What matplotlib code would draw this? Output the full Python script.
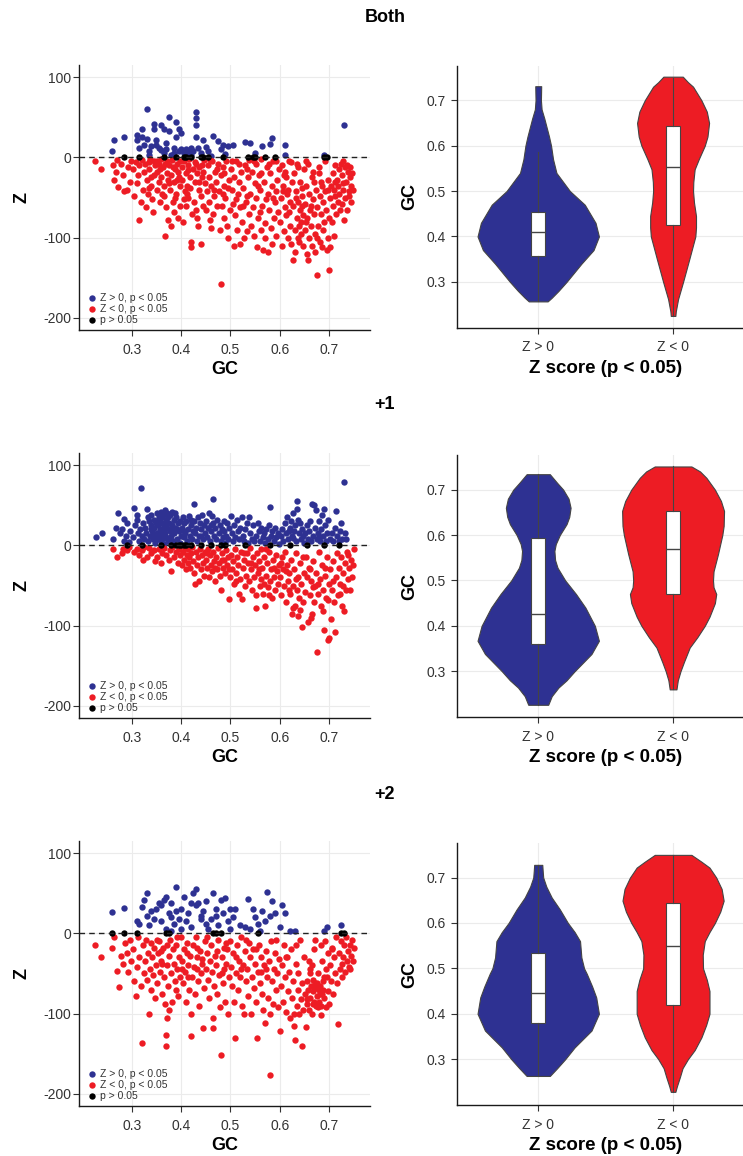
import numpy as np
import matplotlib.pyplot as plt
import pandas as pd

plt.rcParams['font.family'] = ['Liberation Sans', 'DejaVu Sans']
plt.rcParams['axes.unicode_minus'] = False

BLUE = '#2E3192'
RED = '#ED1C24'

titles = ['Both', '+1', '+2']
groups = ['Z > 0', 'Z < 0']
legend_labels = ['Z > 0, p < 0.05', 'Z < 0, p < 0.05', 'p > 0.05']

# ---- scatter data (GC, Z) ----
both_pos = [(0.26,8),(0.265,22),(0.285,26),(0.31,22),(0.31,28),(0.315,12),(0.32,36),(0.32,25),(0.325,15),(0.33,60),
            (0.33,23),(0.335,3),(0.335,8),(0.345,42),(0.345,35),(0.35,22),(0.35,15),(0.355,12),(0.36,40),(0.365,36),
            (0.365,5),(0.37,10),(0.375,50),(0.375,33),(0.38,3),(0.385,12),(0.39,44),(0.39,26),(0.395,35),(0.395,8),
            (0.4,30),(0.4,10),(0.405,5),(0.41,10),(0.415,7),(0.42,3),(0.425,8),(0.43,57),(0.43,49),(0.43,40),
            (0.43,25),(0.435,12),(0.44,5),(0.445,22),(0.45,13),(0.455,8),(0.46,2),(0.465,27),(0.475,20),(0.48,10),
            (0.485,15),(0.49,4),(0.495,14),(0.505,16),(0.53,19),(0.54,18),(0.55,5),(0.565,14),(0.58,17),(0.585,24),
            (0.61,16),(0.61,3),(0.69,3),(0.73,40),(0.37,18),(0.385,6),(0.42,12),(0.41,2),(0.36,9),(0.34,14)]
both_ns = [0.285,0.315,0.365,0.39,0.405,0.41,0.42,0.44,0.445,0.455,0.485,0.535,0.545,0.55,0.57,0.59,0.69,0.695]
both_neg = [(0.226,-5),(0.238,-14),(0.262,-10),(0.265,-28),(0.27,-3),(0.272,-37),(0.268,-18),
            (0.278,-8),(0.282,-22),(0.285,-42),(0.29,-40),(0.292,-12),(0.296,-30),(0.298,-4),
            (0.302,-14),(0.305,-48),(0.308,-6),(0.31,-32),(0.312,-22),(0.315,-78),(0.318,-55),(0.32,-3),(0.322,-40),(0.324,-18),(0.314,-10),
            (0.326,-8),(0.328,-62),(0.33,-28),(0.332,-45),(0.335,-15),(0.337,-2),(0.34,-35),(0.342,-52),(0.344,-68),(0.346,-22),(0.348,-10),(0.335,-38),(0.345,-5),(0.338,-25),
            (0.351,-40),(0.352,-18),(0.355,-8),(0.356,-30),(0.358,-55),(0.36,-2),(0.36,-25),(0.362,-45),(0.364,-12),(0.366,-35),(0.368,-98),(0.37,-62),(0.371,-5),(0.372,-20),(0.374,-78),(0.357,-15),(0.365,-48),(0.373,-28),
            (0.376,-10),(0.378,-40),(0.38,-22),(0.382,-3),(0.383,-55),(0.385,-30),(0.386,-68),(0.388,-15),(0.39,-45),(0.392,-8),(0.394,-75),(0.395,-25),(0.397,-35),(0.398,-60),(0.379,-85),(0.387,-50),(0.393,-18),
            (0.401,-12),(0.402,-28),(0.404,-80),(0.405,-5),(0.407,-42),(0.409,-20),(0.41,-60),(0.412,-35),(0.414,-10),(0.415,-50),(0.417,-2),(0.418,-25),(0.42,-112),(0.421,-105),(0.422,-70),(0.424,-15),(0.411,-45),(0.419,-38),
            (0.426,-55),(0.428,-30),(0.43,-8),(0.431,-65),(0.432,-20),(0.434,-85),(0.436,-40),(0.437,-12),(0.44,-108),(0.441,-48),(0.442,-25),(0.444,-60),(0.446,-3),(0.448,-32),(0.433,-75),(0.445,-18),
            (0.451,-65),(0.452,-42),(0.454,-10),(0.456,-55),(0.457,-25),(0.46,-88),(0.461,-35),(0.463,-5),(0.465,-70),(0.466,-48),(0.468,-18),(0.47,-30),(0.472,-60),(0.474,-8),(0.458,-78),
            (0.476,-42),(0.478,-90),(0.48,-158),(0.481,-22),(0.483,-60),(0.485,-12),(0.486,-75),(0.488,-35),(0.49,-50),(0.492,-5),(0.494,-85),(0.495,-100),(0.497,-28),(0.499,-65),(0.484,-45),
            (0.501,-15),(0.503,-40),(0.505,-58),(0.507,-110),(0.508,-25),(0.51,-72),(0.512,-5),(0.514,-90),(0.515,-45),(0.517,-30),(0.519,-62),(0.52,-108),(0.522,-18),(0.524,-80),(0.511,-52),
            (0.526,-38),(0.528,-100),(0.53,-10),(0.531,-55),(0.533,-92),(0.535,-25),(0.537,-70),(0.538,-3),(0.54,-45),(0.542,-85),(0.544,-18),(0.546,-62),(0.548,-98),(0.549,-32),(0.534,-48),
            (0.551,-8),(0.552,-50),(0.554,-112),(0.556,-75),(0.558,-22),(0.56,-40),(0.562,-90),(0.563,-2),(0.565,-60),(0.567,-115),(0.568,-30),(0.57,-82),(0.572,-52),(0.574,-12),(0.559,-68),(0.571,-100),
            (0.576,-118),(0.577,-45),(0.579,-65),(0.58,-20),(0.582,-88),(0.584,-35),(0.586,-5),(0.588,-75),(0.59,-55),(0.592,-98),(0.594,-28),(0.596,-68),(0.598,-15),(0.585,-108),(0.593,-42),
            (0.601,-80),(0.602,-50),(0.604,-110),(0.605,-10),(0.607,-35),(0.608,-92),(0.61,-62),(0.612,-25),(0.613,-72),(0.615,-45),(0.617,-100),(0.618,-5),(0.62,-55),(0.621,-85),(0.623,-108),(0.624,-30),(0.611,-18),(0.619,-68),(0.606,-42),
            (0.626,-128),(0.627,-60),(0.628,-20),(0.63,-118),(0.631,-90),(0.632,-42),(0.634,-75),(0.635,-8),(0.636,-100),(0.638,-55),(0.64,-85),(0.641,-30),(0.642,-65),(0.644,-95),(0.645,-48),(0.647,-110),(0.648,-72),(0.649,-15),(0.633,-50),(0.643,-80),(0.639,-105),(0.646,-38),
            (0.651,-58),(0.652,-90),(0.654,-35),(0.655,-120),(0.656,-75),(0.658,-128),(0.659,-45),(0.66,-100),(0.662,-65),(0.663,-85),(0.665,-25),(0.666,-110),(0.668,-52),(0.67,-70),(0.671,-95),(0.672,-118),(0.674,-40),(0.675,-147),(0.657,-8),(0.664,-60),(0.669,-30),(0.653,-80),
            (0.676,-62),(0.678,-85),(0.68,-20),(0.681,-48),(0.682,-105),(0.684,-70),(0.685,-35),(0.686,-112),(0.688,-55),(0.69,-80),(0.691,-5),(0.692,-42),(0.694,-65),(0.695,-115),(0.697,-28),(0.698,-100),(0.7,-140),(0.699,-75),(0.687,-90),(0.679,-12),
            (0.701,-50),(0.702,-112),(0.704,-35),(0.705,-80),(0.707,-20),(0.708,-60),(0.71,-98),(0.711,-40),(0.713,-10),(0.714,-70),(0.716,-28),(0.718,-55),(0.72,-15),(0.721,-45),(0.723,-65),(0.724,-8),(0.712,-30),(0.719,-35),
            (0.726,-58),(0.727,-22),(0.729,-40),(0.73,-78),(0.732,-12),(0.733,-50),(0.735,-30),(0.737,-65),(0.738,-18),(0.74,-42),(0.742,-25),(0.744,-55),(0.745,-35),(0.747,-20),(0.749,-40),(0.728,-5),(0.736,-10),(0.741,-48),
            (0.335,-6),(0.352,-4),(0.368,-8),(0.383,-12),(0.398,-4),(0.413,-16),(0.428,-6),(0.443,-10),(0.458,-3),(0.473,-14),
            (0.488,-20),(0.503,-4),(0.518,-8),(0.533,-15),(0.548,-5),(0.563,-20),(0.578,-8),(0.593,-4),(0.608,-22),(0.623,-6),
            (0.638,-12),(0.653,-4),(0.668,-18),(0.683,-30),(0.698,-40),(0.713,-48),(0.728,-32),(0.743,-12),(0.376,-32),(0.391,-28),
            (0.406,-52),(0.436,-30),(0.466,-40),(0.496,-38),(0.526,-60),(0.556,-35),(0.586,-50),(0.616,-40),(0.646,-60),(0.676,-100)]

p1_pos = [(0.228,10),(0.24,16),
          (0.262,8),(0.268,22),(0.272,40),(0.276,15),(0.28,20),(0.284,6),(0.288,12),(0.29,28),(0.294,4),(0.297,18),(0.285,33),
          (0.302,10),(0.305,46),(0.307,25),(0.31,32),(0.312,15),(0.314,5),(0.316,20),(0.318,71),(0.32,12),(0.322,28),(0.324,8),(0.311,38),
          (0.326,22),(0.328,16),(0.33,45),(0.332,5),(0.334,30),(0.336,12),(0.338,25),(0.34,38),(0.341,18),(0.343,8),(0.345,32),(0.346,22),(0.348,3),(0.349,28),(0.333,35),(0.344,14),
          (0.351,40),(0.352,15),(0.353,25),(0.354,8),(0.356,35),(0.357,20),(0.358,30),(0.359,5),(0.36,42),(0.361,12),(0.362,28),(0.363,18),(0.364,38),(0.365,24),(0.366,2),(0.367,44),(0.368,15),(0.369,32),(0.37,10),(0.371,40),(0.372,22),(0.373,35),(0.374,6),(0.355,12),(0.365,9),
          (0.376,28),(0.377,18),(0.378,38),(0.38,12),(0.381,25),(0.382,42),(0.384,5),(0.385,32),(0.386,15),(0.388,22),(0.39,35),(0.391,8),(0.393,28),(0.395,18),(0.397,30),(0.398,3),(0.399,12),(0.387,40),
          (0.401,22),(0.403,35),(0.405,10),(0.406,28),(0.408,15),(0.41,30),(0.412,5),(0.414,20),(0.416,36),(0.418,12),(0.42,25),(0.422,8),(0.424,18),
          (0.426,52),(0.427,30),(0.429,15),(0.43,22),(0.432,5),(0.434,35),(0.436,12),(0.438,28),(0.44,20),(0.442,38),(0.444,8),(0.446,25),(0.448,15),
          (0.451,30),(0.453,10),(0.455,22),(0.457,40),(0.459,5),(0.46,18),(0.462,36),(0.464,28),(0.465,58),(0.467,12),(0.469,22),(0.471,8),(0.473,32),
          (0.476,15),(0.478,25),(0.48,5),(0.482,20),(0.484,10),(0.486,30),(0.488,18),(0.49,3),(0.492,12),(0.494,28),(0.496,8),(0.498,22),
          (0.502,36),(0.504,15),(0.506,5),(0.508,25),(0.51,10),(0.513,32),(0.515,18),(0.518,8),(0.52,22),(0.523,35),(0.525,12),(0.528,5),(0.53,20),(0.533,28),(0.536,3),(0.538,35),(0.54,15),(0.543,8),(0.546,25),(0.548,5),
          (0.552,12),(0.555,28),(0.558,18),(0.56,5),(0.563,22),(0.566,10),(0.568,15),(0.57,3),(0.573,20),(0.576,8),(0.578,25),(0.58,48),(0.582,12),(0.585,18),(0.588,5),(0.59,22),(0.593,10),(0.596,15),(0.598,2),
          (0.602,12),(0.605,20),(0.607,5),(0.61,28),(0.612,15),(0.615,35),(0.617,8),(0.62,22),(0.622,30),(0.624,12),(0.626,40),(0.628,18),(0.63,25),(0.632,5),(0.634,55),(0.635,45),(0.637,32),(0.639,15),(0.641,28),(0.643,8),(0.645,20),(0.647,12),(0.649,3),(0.618,18),(0.627,9),
          (0.652,15),(0.655,25),(0.658,8),(0.66,18),(0.663,5),(0.665,52),(0.667,12),(0.67,50),(0.672,22),(0.674,44),(0.676,8),(0.678,15),(0.68,30),(0.682,5),(0.684,20),(0.686,38),(0.688,12),(0.69,45),(0.692,25),(0.694,5),(0.696,15),(0.698,32),(0.662,30),(0.679,10),
          (0.702,8),(0.705,15),(0.708,5),(0.712,22),(0.715,43),(0.717,12),(0.72,5),(0.723,18),(0.726,8),(0.73,79),(0.732,15),(0.735,8),(0.725,28),
          (0.352,30),(0.358,18),(0.362,35),(0.366,22),(0.372,28),(0.378,8),(0.382,20),(0.346,10),(0.338,20),(0.392,20),(0.405,18),(0.42,32),(0.44,12),(0.46,25)]
p1_ns = [0.29,0.32,0.36,0.38,0.39,0.395,0.40,0.405,0.41,0.42,0.44,0.46,0.48,0.49,0.53,0.58,0.62,0.655,0.69,0.72]
p1_neg = [(0.262,-5),(0.27,-15),(0.28,-10),(0.283,-4),(0.29,-6),(0.295,-2),
          (0.305,-8),(0.31,-4),(0.315,-12),(0.32,-6),(0.322,-18),(0.33,-15),(0.335,-3),(0.34,-10),(0.345,-6),(0.348,-20),(0.325,-2),
          (0.352,-15),(0.355,-5),(0.36,-22),(0.362,-10),(0.365,-3),(0.37,-12),(0.375,-18),(0.378,-6),(0.38,-32),(0.382,-2),(0.385,-14),(0.39,-8),(0.393,-22),(0.396,-4),(0.398,-12),
          (0.401,-25),(0.403,-8),(0.405,-18),(0.407,-3),(0.409,-30),(0.411,-12),(0.413,-22),(0.415,-5),(0.417,-15),(0.419,-28),(0.421,-10),(0.423,-2),(0.425,-20),(0.427,-35),(0.429,-48),(0.431,-8),(0.433,-25),(0.435,-15),(0.437,-45),(0.439,-5),(0.441,-30),(0.443,-12),(0.445,-22),(0.447,-38),(0.449,-8),
          (0.451,-18),(0.453,-28),(0.455,-5),(0.457,-40),(0.459,-12),(0.461,-25),(0.463,-32),(0.465,-8),(0.467,-20),(0.469,-45),(0.471,-15),(0.473,-30),(0.475,-3),(0.477,-22),(0.479,-38),(0.481,-55),(0.483,-10),(0.485,-28),(0.487,-18),(0.489,-35),(0.491,-6),(0.493,-25),(0.495,-15),(0.497,-67),(0.499,-40),
          (0.501,-12),(0.503,-30),(0.505,-20),(0.507,-48),(0.509,-5),(0.511,-35),(0.513,-15),(0.515,-25),(0.517,-60),(0.519,-42),(0.521,-8),(0.523,-67),(0.525,-28),(0.527,-18),(0.529,-50),(0.531,-38),(0.533,-10),(0.535,-22),(0.537,-45),(0.539,-3),(0.541,-30),(0.543,-55),(0.545,-15),(0.547,-40),(0.549,-25),(0.552,-78),
          (0.551,-62),(0.553,-10),(0.555,-35),(0.557,-20),(0.559,-50),(0.561,-5),(0.563,-42),(0.565,-28),(0.567,-60),(0.569,-15),(0.571,-75),(0.573,-38),(0.575,-22),(0.577,-52),(0.579,-8),(0.581,-45),(0.583,-30),(0.585,-65),(0.587,-18),(0.589,-40),(0.591,-55),(0.593,-12),(0.595,-32),(0.597,-48),(0.599,-25),(0.568,-48),(0.578,-62),
          (0.601,-40),(0.603,-62),(0.605,-15),(0.607,-30),(0.609,-50),(0.611,-8),(0.613,-70),(0.615,-25),(0.617,-45),(0.619,-35),(0.621,-60),(0.623,-18),(0.625,-85),(0.627,-50),(0.629,-30),(0.631,-75),(0.633,-10),(0.635,-55),(0.637,-40),(0.639,-65),(0.641,-22),(0.643,-48),(0.645,-102),(0.647,-70),(0.649,-35),(0.626,-78),(0.638,-88),
          (0.651,-58),(0.653,-15),(0.655,-40),(0.657,-95),(0.659,-28),(0.661,-62),(0.663,-45),(0.665,-85),(0.667,-20),(0.669,-70),(0.671,-50),(0.673,-35),(0.675,-133),(0.677,-60),(0.679,-8),(0.681,-42),(0.683,-75),(0.685,-25),(0.687,-55),(0.689,-106),(0.691,-38),(0.693,-65),(0.695,-15),(0.697,-118),(0.699,-48),(0.7,-115),(0.664,-90),(0.688,-82),
          (0.702,-30),(0.704,-92),(0.706,-55),(0.708,-20),(0.71,-70),(0.712,-108),(0.714,-40),(0.716,-10),(0.718,-62),(0.72,-28),(0.722,-48),(0.724,-15),(0.726,-75),(0.728,-35),(0.73,-82),(0.732,-22),(0.734,-55),(0.736,-8),(0.738,-42),(0.74,-28),(0.742,-55),(0.744,-18),(0.746,-40),(0.748,-25),(0.75,-5),
          (0.452,-10),(0.468,-28),(0.482,-18),(0.498,-30),(0.512,-45),(0.528,-10),(0.542,-22),(0.558,-30),(0.572,-5),(0.588,-28),
          (0.602,-22),(0.618,-55),(0.632,-42),(0.648,-15),(0.662,-30),(0.678,-48),(0.692,-28),(0.708,-45),(0.722,-60),(0.738,-12),
          (0.612,-32),(0.642,-80),(0.668,-52),(0.698,-68),(0.728,-50)]

p2_pos = [(0.26,27),(0.285,31),(0.31,15),(0.315,12),(0.32,33),(0.325,42),(0.33,50),(0.33,22),(0.335,10),(0.34,28),
          (0.345,18),(0.35,30),(0.355,38),(0.36,15),(0.365,42),(0.37,5),(0.37,45),(0.375,25),(0.38,3),(0.38,38),
          (0.385,12),(0.39,58),(0.39,28),(0.395,18),(0.4,5),(0.4,30),(0.405,45),(0.41,15),(0.415,25),(0.42,8),
          (0.425,50),(0.43,55),(0.43,35),(0.435,38),(0.44,22),(0.445,28),(0.45,40),(0.45,12),(0.455,5),(0.46,18),
          (0.465,50),(0.47,30),(0.475,10),(0.48,42),(0.485,25),(0.49,44),(0.495,15),(0.5,5),(0.505,20),(0.51,30),
          (0.52,10),(0.53,8),(0.535,43),(0.54,5),(0.545,30),(0.55,20),(0.555,12),(0.56,3),(0.565,28),(0.57,15),
          (0.575,52),(0.58,22),(0.585,40),(0.59,25),(0.6,8),(0.605,35),(0.61,25),(0.62,3),(0.63,3),(0.69,3),
          (0.695,8),(0.725,10),(0.36,35),(0.42,38),(0.47,22),(0.5,30),(0.38,20),(0.44,18)]
p2_ns = [0.26,0.285,0.31,0.37,0.375,0.465,0.47,0.48,0.555,0.725,0.73]
p2_neg = [(0.226,-15),(0.238,-30),(0.26,-18),(0.265,-5),(0.27,-47),(0.275,-67),(0.278,-28),(0.282,-38),(0.286,-12),(0.29,-25),(0.293,-48),(0.296,-8),(0.299,-35),
          (0.302,-20),(0.305,-60),(0.308,-78),(0.31,-42),(0.312,-5),(0.315,-30),(0.318,-65),(0.32,-136),(0.322,-15),(0.324,-50),(0.326,-35),(0.328,-8),(0.33,-58),(0.332,-25),(0.334,-100),(0.336,-45),(0.338,-12),(0.34,-70),(0.342,-30),(0.344,-52),(0.346,-18),(0.348,-80),(0.35,-40),
          (0.352,-62),(0.354,-25),(0.356,-10),(0.358,-48),(0.36,-35),(0.362,-75),(0.364,-18),(0.366,-55),(0.368,-88),(0.369,-140),(0.37,-127),(0.371,-106),(0.372,-40),(0.374,-65),(0.376,-28),(0.378,-8),(0.38,-50),(0.382,-85),(0.384,-20),(0.386,-38),(0.388,-60),(0.39,-15),(0.392,-45),(0.394,-78),(0.396,-30),(0.398,-55),(0.4,-5),(0.375,-95),(0.359,-22),(0.389,-70),
          (0.402,-35),(0.404,-62),(0.406,-20),(0.408,-48),(0.41,-85),(0.412,-12),(0.414,-40),(0.416,-70),(0.418,-28),(0.42,-128),(0.421,-100),(0.422,-55),(0.424,-15),(0.426,-42),(0.428,-75),(0.43,-5),(0.432,-30),(0.434,-60),(0.436,-90),(0.438,-22),(0.44,-50),(0.442,-38),(0.444,-118),(0.446,-68),(0.448,-10),(0.45,-45),(0.415,-55),(0.433,-45),
          (0.452,-25),(0.454,-58),(0.456,-80),(0.458,-35),(0.46,-15),(0.462,-48),(0.464,-106),(0.465,-118),(0.466,-65),(0.468,-28),(0.47,-40),(0.472,-75),(0.474,-8),(0.476,-52),(0.478,-92),(0.48,-152),(0.482,-30),(0.484,-62),(0.486,-18),(0.488,-45),(0.49,-85),(0.492,-38),(0.494,-20),(0.496,-100),(0.498,-55),(0.5,-10),
          (0.502,-42),(0.504,-65),(0.506,-25),(0.508,-85),(0.51,-130),(0.512,-50),(0.514,-15),(0.516,-70),(0.518,-35),(0.52,-55),(0.522,-5),(0.524,-90),(0.526,-40),(0.528,-100),(0.53,-22),(0.532,-60),(0.534,-45),(0.536,-78),(0.538,-12),(0.54,-30),(0.542,-100),(0.544,-55),(0.546,-20),(0.548,-68),(0.55,-38),
          (0.552,-85),(0.554,-130),(0.556,-48),(0.558,-15),(0.56,-62),(0.562,-30),(0.564,-75),(0.566,-95),(0.568,-40),(0.57,-112),(0.572,-22),(0.574,-55),(0.576,-80),(0.578,-35),(0.58,-177),(0.581,-100),(0.583,-10),(0.585,-60),(0.587,-88),(0.589,-45),(0.591,-25),(0.593,-70),(0.595,-50),(0.597,-92),(0.599,-32),
          (0.601,-122),(0.603,-65),(0.605,-40),(0.607,-85),(0.609,-15),(0.611,-55),(0.613,-98),(0.615,-30),(0.617,-72),(0.619,-48),(0.621,-105),(0.623,-20),(0.625,-80),(0.627,-60),(0.629,-115),(0.63,-133),(0.632,-38),(0.634,-90),(0.636,-70),(0.638,-50),(0.64,-100),(0.642,-8),(0.644,-82),(0.645,-140),(0.646,-62),(0.648,-95),(0.65,-30),(0.628,-100),
          (0.652,-75),(0.653,-117),(0.655,-88),(0.656,-60),(0.658,-70),(0.66,-95),(0.661,-45),(0.662,-80),(0.664,-65),(0.665,-100),(0.667,-72),(0.668,-58),(0.669,-85),(0.67,-20),(0.672,-68),(0.673,-90),(0.675,-62),(0.676,-78),(0.678,-50),(0.679,-70),(0.68,-85),(0.682,-65),(0.683,-102),(0.685,-75),(0.686,-35),(0.688,-60),(0.69,-80),(0.691,-10),(0.693,-45),(0.694,-92),(0.696,-55),(0.698,-25),(0.7,-88),(0.659,-35),(0.671,-8),(0.684,-15),(0.666,-40),(0.677,-92),(0.687,-70),
          (0.702,-40),(0.704,-60),(0.706,-18),(0.708,-75),(0.71,-30),(0.712,-50),(0.714,-5),(0.716,-62),(0.718,-113),(0.72,-25),(0.722,-45),(0.724,-10),(0.726,-55),(0.728,-30),(0.73,-15),(0.732,-48),(0.734,-5),(0.736,-35),(0.738,-22),(0.74,-42),(0.742,-15),(0.744,-28),(0.746,-8),(0.748,-35),(0.75,-18),
          (0.352,-8),(0.372,-15),(0.392,-5),(0.412,-25),(0.432,-18),(0.452,-5),(0.472,-22),(0.492,-12),(0.512,-30),(0.532,-8),
          (0.552,-20),(0.572,-45),(0.592,-8),(0.612,-30),(0.632,-15),(0.662,-50),(0.672,-62),(0.681,-75),(0.689,-55),(0.667,-88),
          (0.676,-68),(0.684,-90),(0.656,-82),(0.697,-72),(0.705,-20),(0.727,-38),(0.742,-45),(0.362,-38),(0.402,-45),(0.442,-32),
          (0.482,-50),(0.522,-45),(0.562,-48)]

# ---- violin outlines: GC level -> half width (x units) ----
both_pos_vgc = [0.257,0.265,0.28,0.30,0.34,0.37,0.40,0.43,0.47,0.50,0.54,0.57,0.60,0.62,0.66,0.68,0.70,0.731]
both_pos_vw = [0.07,0.10,0.15,0.21,0.32,0.41,0.45,0.425,0.345,0.235,0.135,0.11,0.095,0.08,0.045,0.025,0.02,0.022]
both_neg_vgc = [0.225,0.235,0.262,0.30,0.35,0.40,0.42,0.445,0.475,0.50,0.52,0.548,0.57,0.60,0.62,0.65,0.675,0.70,0.73,0.74,0.752]
both_neg_vw = [0.017,0.02,0.037,0.074,0.12,0.165,0.17,0.17,0.155,0.148,0.15,0.16,0.19,0.235,0.255,0.267,0.25,0.21,0.148,0.11,0.072]
p1_pos_vgc = [0.226,0.245,0.264,0.28,0.30,0.338,0.367,0.40,0.44,0.47,0.50,0.528,0.545,0.565,0.58,0.60,0.624,0.64,0.66,0.68,0.70,0.715,0.734]
p1_pos_vw = [0.074,0.10,0.15,0.21,0.27,0.395,0.45,0.42,0.35,0.28,0.20,0.143,0.125,0.12,0.13,0.16,0.21,0.23,0.24,0.225,0.185,0.14,0.086]
p1_neg_vgc = [0.26,0.28,0.30,0.32,0.352,0.375,0.40,0.42,0.45,0.47,0.485,0.50,0.52,0.558,0.60,0.62,0.653,0.675,0.70,0.726,0.74,0.751]
p1_neg_vw = [0.025,0.035,0.055,0.08,0.123,0.18,0.235,0.27,0.31,0.32,0.30,0.296,0.30,0.333,0.365,0.375,0.378,0.355,0.31,0.247,0.20,0.136]
p2_pos_vgc = [0.263,0.28,0.30,0.326,0.363,0.40,0.436,0.46,0.488,0.50,0.524,0.56,0.58,0.60,0.63,0.656,0.68,0.70,0.715,0.728]
p2_pos_vw = [0.086,0.14,0.20,0.27,0.395,0.45,0.43,0.40,0.36,0.34,0.32,0.31,0.27,0.22,0.16,0.10,0.06,0.037,0.033,0.03]
p2_neg_vgc = [0.228,0.24,0.26,0.28,0.30,0.32,0.348,0.375,0.40,0.45,0.475,0.50,0.53,0.56,0.58,0.60,0.625,0.649,0.675,0.70,0.722,0.735,0.75]
p2_neg_vw = [0.017,0.028,0.05,0.07,0.11,0.16,0.21,0.245,0.27,0.27,0.25,0.222,0.22,0.235,0.27,0.31,0.35,0.375,0.36,0.32,0.27,0.21,0.136]

# box stats: whislo, q1, med, q3, whishi
box_stats = [[(0.257,0.357,0.409,0.454,0.585),(0.225,0.426,0.552,0.643,0.75)],
             [(0.226,0.359,0.4255,0.593,0.734),(0.26,0.47,0.57,0.653,0.751)],
             [(0.263,0.38,0.445,0.5345,0.728),(0.228,0.42,0.55,0.644,0.75)]]

scatter_sets = [(both_pos, both_neg, both_ns), (p1_pos, p1_neg, p1_ns), (p2_pos, p2_neg, p2_ns)]
violin_sets = [[(both_pos_vgc, both_pos_vw), (both_neg_vgc, both_neg_vw)],
               [(p1_pos_vgc, p1_pos_vw), (p1_neg_vgc, p1_neg_vw)],
               [(p2_pos_vgc, p2_pos_vw), (p2_neg_vgc, p2_neg_vw)]]

fig = plt.figure(figsize=(7.43, 11.56), dpi=100)

scatter_bottoms = [0.7145, 0.3789, 0.0433]
violin_bottoms = [0.7165, 0.3797, 0.0441]
title_y = [0.985, 0.6497, 0.3123]

def style(ax):
    for s in ['top', 'right']:
        ax.spines[s].set_visible(False)
    for s in ['left', 'bottom']:
        ax.spines[s].set_color('#1A1A1A')
        ax.spines[s].set_linewidth(1.0)
    ax.grid(True, color='#EBEBEB', linewidth=0.8)
    ax.set_axisbelow(True)
    ax.tick_params(length=4, width=0.8, color='#333333', labelsize=10, labelcolor='#333333')

for i in range(3):
    pos, neg, ns = scatter_sets[i]
    pos = pd.DataFrame(pos, columns=['GC', 'Z'])
    neg = pd.DataFrame(neg, columns=['GC', 'Z'])

    ax = fig.add_axes([0.1063, scatter_bottoms[i], 0.3917, 0.2292])
    style(ax)
    ax.tick_params(axis='x', pad=5.5)
    ax.tick_params(axis='y', pad=1.5)
    ax.scatter(pos['GC'], pos['Z'], s=21, color=BLUE, linewidths=0, label=legend_labels[0], zorder=2)
    ax.scatter(neg['GC'], neg['Z'], s=21, color=RED, linewidths=0, label=legend_labels[1], zorder=2)
    ax.scatter(ns, np.zeros(len(ns)), s=21, color='black', linewidths=0, label=legend_labels[2], zorder=3)
    ax.axhline(0, color='#222222', linestyle=(0, (4, 3)), linewidth=1.0, zorder=4)
    ax.set_xlim(0.193, 0.783)
    ax.set_ylim(-215, 115)
    ax.set_xticks([0.3, 0.4, 0.5, 0.6, 0.7])
    ax.set_yticks([-200, -100, 0, 100])
    ax.set_xlabel('GC', fontsize=13, fontweight='bold', labelpad=2.5)
    ax.set_ylabel('Z', fontsize=13, fontweight='bold', labelpad=9)
    ax.legend(loc='lower left', bbox_to_anchor=(0.03, 0.02), frameon=False, fontsize=7.5,
              handletextpad=0.4, labelspacing=0.1, borderpad=0, borderaxespad=0, markerscale=1,
              labelcolor='#333333', handlelength=0.8)

    ax2 = fig.add_axes([0.6155, violin_bottoms[i], 0.3993, 0.2266])
    style(ax2)
    ax2.tick_params(axis='x', pad=5)
    ax2.tick_params(axis='y', pad=4)
    for j, col in enumerate([BLUE, RED]):
        vgc, vw = violin_sets[i][j]
        vgc = np.array(vgc)
        vw = np.array(vw)
        ax2.fill_betweenx(vgc, j + 1 - vw, j + 1 + vw, facecolor=col, edgecolor='#444444', linewidth=0.8, zorder=2)
        lo, q1, med, q3, hi = box_stats[i][j]
        ax2.bxp([{'whislo': lo, 'q1': q1, 'med': med, 'q3': q3, 'whishi': hi, 'fliers': []}],
                positions=[j + 1], widths=0.1, patch_artist=True, showcaps=False, showfliers=False,
                boxprops=dict(facecolor='white', edgecolor='#444444', linewidth=0.8),
                whiskerprops=dict(color='#444444', linewidth=0.8),
                medianprops=dict(color='#444444', linewidth=1.0), zorder=3)
    ax2.set_xlim(0.4, 2.6)
    ax2.set_ylim(0.199, 0.776)
    ax2.set_xticks([1, 2])
    ax2.set_xticklabels(groups)
    ax2.set_yticks([0.3, 0.4, 0.5, 0.6, 0.7])
    ax2.set_xlabel('Z score (p < 0.05)', fontsize=13.5, fontweight='bold', labelpad=4)
    ax2.set_ylabel('GC', fontsize=13, fontweight='bold', labelpad=6)

    fig.text(0.518, title_y[i], titles[i], ha='center', va='center', fontsize=13, fontweight='bold')

fig.savefig('out.png', dpi=100)
